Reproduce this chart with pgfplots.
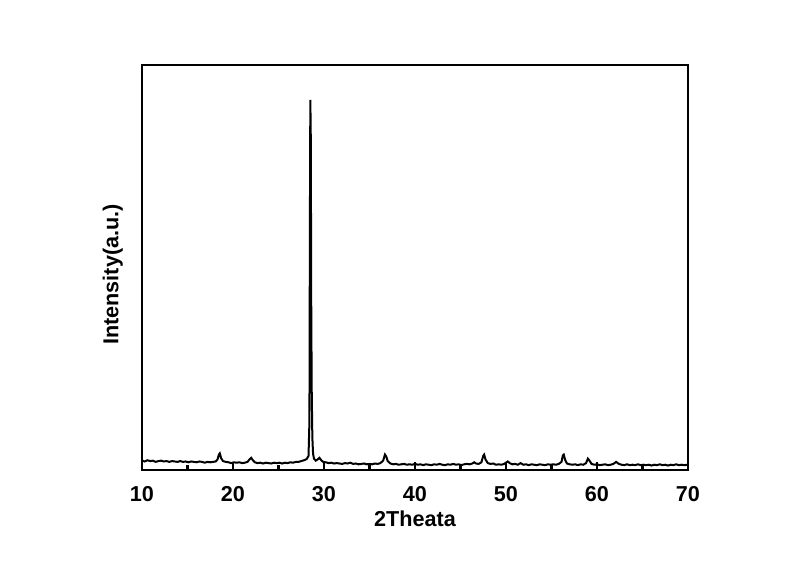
\documentclass[border=0pt]{standalone}
\usepackage{fontspec}
\setmainfont{Liberation Sans}
\usepackage{pgfplots}
\pgfplotsset{compat=1.18}
\begin{document}
\begin{tikzpicture}
\useasboundingbox (0,0) rectangle (400pt,282.5pt);
\begin{axis}[
  at={(71pt,47.5pt)}, anchor=south west,
  scale only axis, width=273pt, height=202.5pt,
  xmin=10, xmax=70, ymin=0, ymax=100,
  xtick={10,20,...,70}, minor xtick={15,25,...,65},
  ytick=\empty,
  xtick pos=bottom, tick align=inside,
  major tick length=4pt, minor tick length=2.5pt,
  every tick/.style={line width=1.3pt, black},
  axis line style={line width=1.4pt},
  /pgf/number format/assume math mode=true,
  ticklabel style={font=\fontsize{10.8}{13}\selectfont\bfseries},
  xticklabel style={yshift=-4.5pt},
  xlabel={2Theata}, ylabel={Intensity(a.u.)},
  label style={font=\fontsize{10.8}{13}\selectfont\bfseries},
  xlabel style={yshift=2pt},
  ylabel style={yshift=6pt, xshift=-3.5pt},
]
\addplot[black, line width=1pt] coordinates {
(10.0,2.3)(10.3,2.1)(10.6,2.4)(10.9,2.2)(11.2,2.3)(11.5,2.0)(11.8,2.2)(12.1,2.3)(12.4,2.1)(12.7,2.2)
(13.0,2.0)(13.3,2.2)(13.6,2.1)(13.9,2.0)(14.2,2.2)(14.5,2.0)(14.8,2.1)(15.1,1.9)(15.4,2.1)(15.7,2.0)
(16.0,1.9)(16.3,2.1)(16.6,2.0)(16.9,1.8)(17.2,2.0)(17.5,1.9)(17.8,2.0)(18.1,2.1)(18.3,2.6)(18.45,3.8)
(18.55,4.1)(18.7,2.9)(18.9,2.2)(19.2,2.0)(19.5,1.9)(19.8,1.7)(20.1,1.9)(20.4,1.8)(20.7,1.9)(21.0,1.7)
(21.3,1.8)(21.6,2.0)(21.85,2.7)(22.0,3.0)(22.15,2.5)(22.4,1.9)(22.7,1.7)(23.0,1.8)(23.3,1.6)(23.6,1.8)
(23.9,1.7)(24.2,1.6)(24.5,1.8)(24.8,1.7)(25.1,1.8)(25.4,1.6)(25.7,1.8)(26.0,1.7)(26.3,1.9)(26.6,1.8)
(26.9,2.0)(27.2,2.0)(27.5,2.2)(27.8,2.4)(28.1,2.7)(28.3,3.5)(28.4,12)(28.45,60)(28.5,91.4)(28.55,82)
(28.6,40)(28.65,20)(28.72,8)(28.8,4)(28.9,2.8)(29.1,2.3)(29.3,2.6)(29.5,3.0)(29.7,2.4)(29.9,2.0)
(30.2,1.9)(30.5,1.7)(30.8,1.8)(31.1,1.6)(31.4,1.7)(31.7,1.6)(32.0,1.5)(32.3,1.7)(32.6,1.6)(32.9,1.8)
(33.2,1.5)(33.5,1.6)(33.8,1.4)(34.1,1.5)(34.4,1.6)(34.7,1.4)(35.0,1.5)(35.3,1.4)(35.6,1.6)(35.9,1.5)
(36.2,1.7)(36.5,2.3)(36.7,3.8)(36.85,3.3)(37.0,2.2)(37.3,1.6)(37.6,1.4)(37.9,1.5)(38.2,1.3)(38.5,1.4)
(38.8,1.5)(39.1,1.3)(39.4,1.4)(39.7,1.3)(40.0,1.5)(40.3,1.3)(40.6,1.4)(40.9,1.2)(41.2,1.4)(41.5,1.3)
(41.8,1.2)(42.1,1.4)(42.4,1.3)(42.7,1.5)(43.0,1.3)(43.3,1.2)(43.6,1.4)(43.9,1.3)(44.2,1.5)(44.5,1.3)
(44.8,1.4)(45.1,1.2)(45.4,1.4)(45.7,1.5)(46.0,1.4)(46.3,1.6)(46.5,1.9)(46.7,1.6)(47.0,1.5)(47.3,1.9)
(47.5,3.5)(47.6,3.8)(47.75,2.6)(48.0,1.7)(48.3,1.5)(48.6,1.6)(48.9,1.3)(49.2,1.4)(49.5,1.3)(49.8,1.5)
(50.0,1.8)(50.2,2.1)(50.4,1.7)(50.7,1.4)(51.0,1.5)(51.3,1.3)(51.6,1.7)(51.9,1.3)(52.2,1.4)(52.5,1.2)
(52.8,1.4)(53.1,1.3)(53.4,1.2)(53.7,1.4)(54.0,1.3)(54.3,1.2)(54.6,1.4)(54.9,1.3)(55.2,1.4)(55.5,1.3)
(55.8,1.5)(56.1,2.0)(56.25,3.6)(56.35,3.8)(56.5,2.5)(56.7,1.6)(57.0,1.4)(57.3,1.3)(57.6,1.4)(57.9,1.2)
(58.2,1.4)(58.5,1.3)(58.8,1.7)(59.0,2.8)(59.15,2.4)(59.4,1.5)(59.7,1.3)(60.0,1.4)(60.3,1.2)(60.6,1.3)
(60.9,1.4)(61.2,1.2)(61.5,1.3)(61.8,1.5)(62.1,2.0)(62.4,1.5)(62.7,1.3)(63.0,1.2)(63.3,1.4)(63.6,1.2)
(63.9,1.3)(64.2,1.2)(64.5,1.4)(64.8,1.2)(65.1,1.3)(65.4,1.2)(65.7,1.3)(66.0,1.1)(66.3,1.3)(66.6,1.2)
(66.9,1.4)(67.2,1.2)(67.5,1.3)(67.8,1.1)(68.1,1.3)(68.4,1.2)(68.7,1.4)(69.0,1.2)(69.3,1.3)(69.6,1.2)
(70.0,1.3)
};
\end{axis}
\end{tikzpicture}
\end{document}
